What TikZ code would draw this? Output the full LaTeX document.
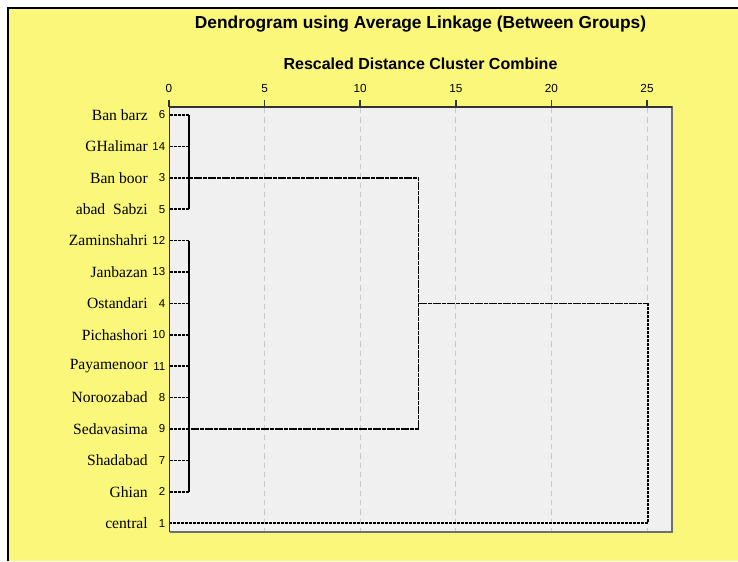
\documentclass[tikz,border=0pt]{standalone}
\usepackage{fontspec}
\setmainfont{Liberation Serif}
\newfontfamily\arial{Liberation Sans}
\definecolor{bgyellow}{RGB}{250,247,122}
\definecolor{plotgray}{RGB}{240,240,240}
\definecolor{gridgray}{RGB}{200,200,200}
\definecolor{framegray}{RGB}{110,110,110}
\begin{document}
\begin{tikzpicture}[x=0.75pt,y=-0.75pt,
  namelbl/.style={anchor=east,inner sep=0pt,font=\fontsize{11.7}{12}\selectfont},
  numlbl/.style={anchor=east,inner sep=0pt,font=\arial\fontsize{8.6}{9}\selectfont},
  ticklbl/.style={anchor=south,inner sep=0pt,font=\arial\fontsize{8.8}{9}\selectfont},
  gridline/.style={gridgray,line width=0.7pt,dash pattern=on 4pt off 3pt},
  leafline/.style={black,line width=1.3pt,dash pattern=on 2.2pt off 0.8pt},
  joinline/.style={black,line width=1.3pt,dash pattern=on 3pt off 0.5pt},
  farline/.style={black,line width=1.2pt,dash pattern=on 2.2pt off 0.8pt},
  vline/.style={black,line width=1.3pt}]
\useasboundingbox (0,0) rectangle (738,561);
% background
\fill[white] (0,0) rectangle (738,561);
\fill[bgyellow] (8,8) rectangle (738,561);
\draw[black,line width=1.6pt] (8,561) -- (8,8) -- (738,8);
% titles
\node[font=\arial\bfseries\fontsize{13}{15}\selectfont,inner sep=0pt] (title) at (420.5,24) {Dendrogram using Average Linkage (Between Groups)};
\node[font=\arial\bfseries\fontsize{12}{14}\selectfont,inner sep=0pt] (subtitle) at (420.5,64) {Rescaled Distance Cluster Combine};
% plot area
\fill[plotgray] (170,107) rectangle (672,532);
\foreach \v in {5,10,15,20,25}{
  \draw[gridline] ({169+19.12*\v},108) -- ({169+19.12*\v},531);
}
\draw[framegray,line width=1.3pt] (170,107) -- (672,107) -- (672,532) -- (170,532);
\draw[black!80,line width=1.3pt] (169.5,532) -- (169.5,107) -- (672,107);
% axis ticks
\foreach \v in {0,5,10,15,20,25}{
  \draw[black!80,line width=1.1pt] ({169+19.12*\v},100) -- ({169+19.12*\v},107);
  \node[ticklbl] (t\v) at ({169+19.12*\v},93) {\v};
}
% leaves
\foreach \i/\nm/\k in {1/Ban barz/6,2/GHalimar/14,3/Ban boor/3,4/abad\ \ Sabzi/5,5/Zaminshahri/12,6/Janbazan/13,7/Ostandari/4,8/Pichashori/10,9/Payamenoor/11,10/Noroozabad/8,11/Sedavasima/9,12/Shadabad/7,13/Ghian/2,14/central/1}{
  \pgfmathsetmacro{\yy}{115+31.4*(\i-1)}
  \node[namelbl] (n\i) at (148,\yy) {\nm};
  \node[numlbl] (k\i) at (165.5,\yy) {\k};
  \coordinate (l\i) at (170,\yy);
}
% cluster coordinates
\coordinate (a) at ([xshift=19.12*0.75pt]l3);
\coordinate (b) at ([xshift=19.12*0.75pt]l11);
\coordinate (ab) at ([xshift=13*19.12*0.75pt]l7);
\coordinate (root) at ([xshift=25*19.12*0.75pt]l7);
% first cluster
\foreach \i in {1,2,3,4}{ \draw[leafline] (l\i) -- (l\i -| a); }
\draw[vline] (l1 -| a) -- (l4 -| a);
% second cluster
\foreach \i in {5,...,13}{ \draw[leafline] (l\i) -- (l\i -| b); }
\draw[vline] (l5 -| b) -- (l13 -| b);
% join clusters
\draw[joinline] (a) -- (a -| ab) -- (b -| ab) -- (b);
% root
\draw[joinline] (ab) -- (root);
\draw[farline] (root) -- (l14 -| root) -- (l14);
\end{tikzpicture}
\end{document}
